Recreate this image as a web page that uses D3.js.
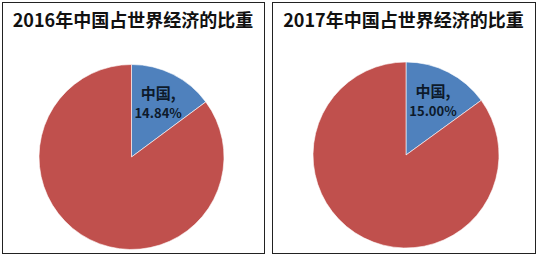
<!DOCTYPE html>
<html>
<head>
<meta charset="utf-8">
<script src="https://d3js.org/d3.v7.min.js"></script>
<style>
  body { margin: 0; background: #fff; }
  .pie text { font-family: "Noto Sans CJK SC", "Noto Sans", sans-serif; font-weight: bold; }
</style>
</head>
<body>
<div id="chart"></div>
<script>
"use strict"
var anos = ["2016", "2017"];
var categorias = ["中国", "其他"];
var parteChina = [14.84, 15.00];
var rotulos = ["14.84%", "15.00%"];

var larguraSVG = 539, alturaSVG = 257;
var paineis = [
  {x: 2, y: 2, w: 262, h: 251, cx: 131.5, cy: 157, r: 92.5},
  {x: 272, y: 2, w: 263, h: 251, cx: 406, cy: 155, r: 93}
];

var cor = d3.scaleOrdinal().domain(categorias).range(["#4F81BD", "#C0504D"]);

var svg = d3.select('#chart').append('svg')
  .attr('width', larguraSVG)
  .attr('height', alturaSVG);

var pie = d3.pie().sort(null).value(d => d.valor);

anos.forEach(function(ano, i) {
  var p = paineis[i];
  var dados = [
    {cat: categorias[0], valor: parteChina[i]},
    {cat: categorias[1], valor: 100 - parteChina[i]}
  ];
  var g = svg.append('g').attr('class', 'pie');

  g.append('rect')
    .attr('x', p.x + 0.5).attr('y', p.y + 0.5)
    .attr('width', p.w).attr('height', p.h)
    .attr('fill', '#fff').attr('stroke', '#222').attr('stroke-width', 1);

  g.append('text')
    .attr('x', p.x + p.w / 2).attr('y', 27)
    .attr('text-anchor', 'middle')
    .attr('font-size', 18)
    .attr('fill', '#111')
    .text(ano + '年中国占世界经济的比重');

  var arco = d3.arc().innerRadius(0).outerRadius(p.r);
  var arcoRotulo = d3.arc().innerRadius(p.r * 0.64).outerRadius(p.r * 0.64);

  var fatia = g.append('g').attr('transform', 'translate(' + p.cx + ',' + p.cy + ')');
  var arcos = pie(dados);
  fatia.selectAll('path')
    .data(arcos)
    .enter()
    .append('path')
      .attr('d', arco)
      .attr('fill', d => cor(d.data.cat))
      .attr('stroke', '#fff')
      .attr('stroke-width', 0.6);

  var c = arcoRotulo.centroid(arcos[0]);
  var t = fatia.append('text')
    .attr('text-anchor', 'middle')
    .attr('fill', '#0d1a2b')
    .attr('transform', 'translate(' + c[0] + ',' + c[1] + ')');
  t.append('tspan').attr('x', 0).attr('y', -5).attr('font-size', 15).text(categorias[0] + ',');
  t.append('tspan').attr('x', 0).attr('y', 14).attr('font-size', 13).text(rotulos[i]);
});
</script>
</body>
</html>
